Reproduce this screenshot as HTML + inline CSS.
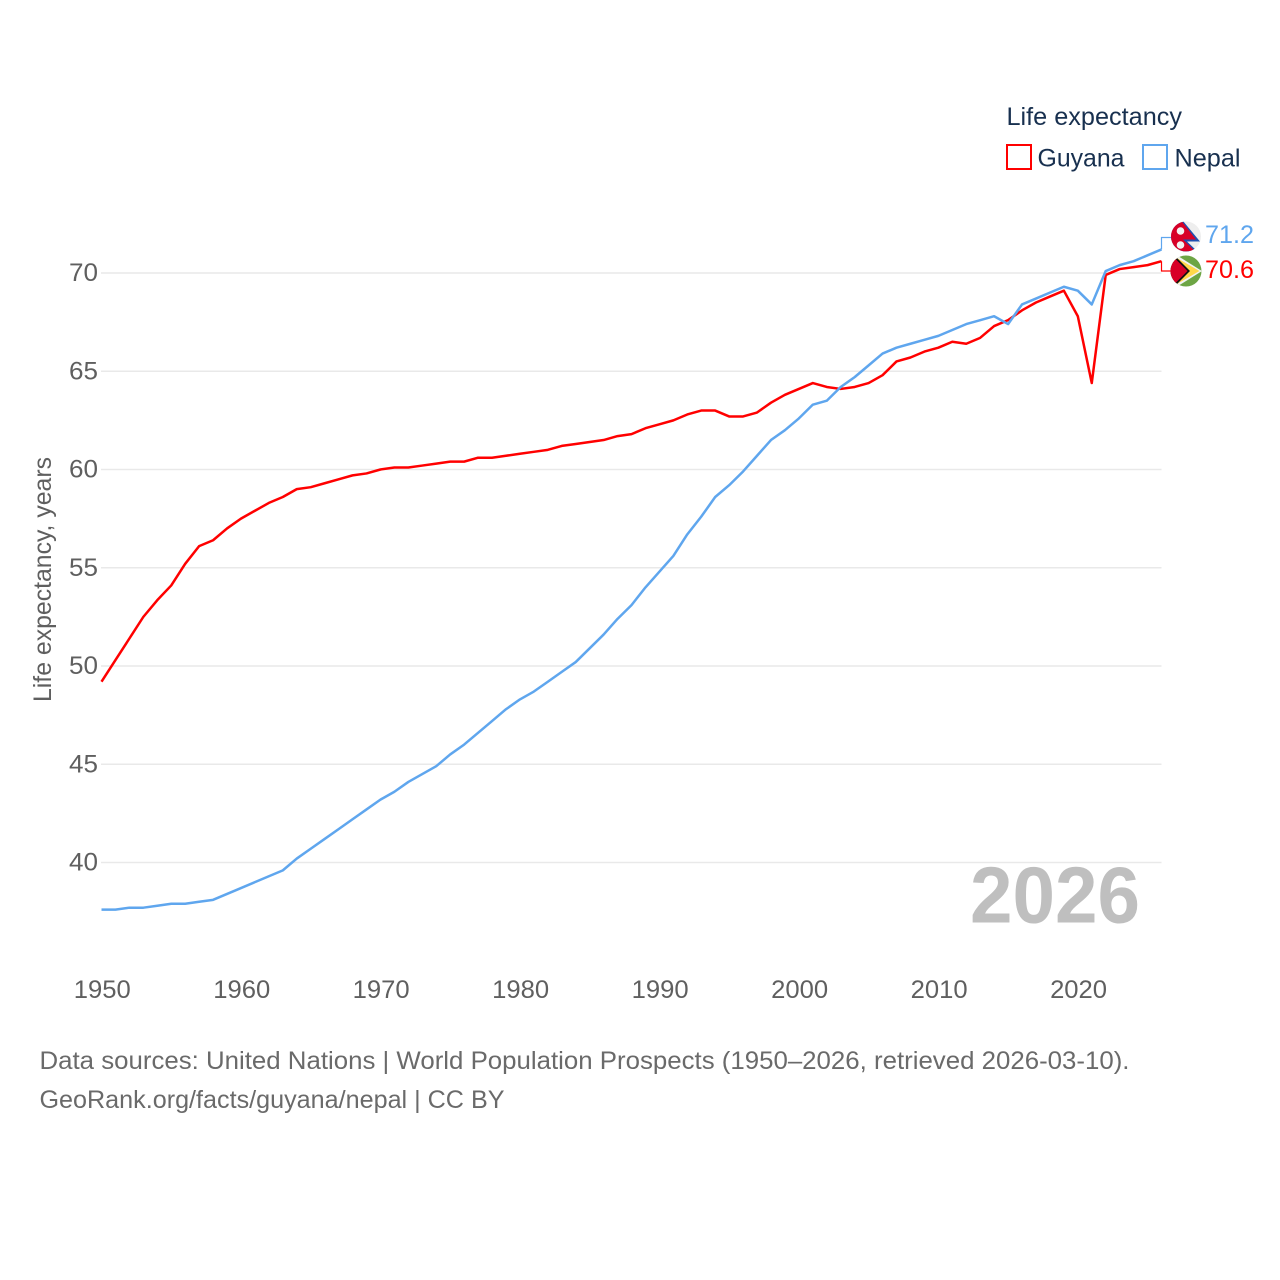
<!DOCTYPE html>
<html lang="en">
<head>
<meta charset="utf-8">
<title>Life expectancy: Guyana and Nepal</title>
<style>
html,body{margin:0;padding:0;background:#fff;}
svg{display:block;font-family:"Liberation Sans",sans-serif;}
</style>
</head>
<body>
<svg id="chart" xmlns="http://www.w3.org/2000/svg" width="1280" height="1280" viewBox="0 0 1280 1280">
  <defs>
    <clipPath id="nepal-clip"><circle cx="1186" cy="236.5" r="15"/></clipPath>
    <clipPath id="guyana-clip"><circle cx="1186" cy="271" r="15.5"/></clipPath>
  </defs>
  <rect x="0" y="0" width="1280" height="1280" fill="#fff"/>
  <g id="grid"></g>
  <g id="y-ticks"></g>
  <g id="x-ticks"></g>
  <text transform="translate(51,702) rotate(-90)" font-size="25" fill="#5f5f5f" textLength="245" lengthAdjust="spacingAndGlyphs">Life expectancy, years</text>
  <text x="970" y="922.5" font-size="80" font-weight="700" fill="#bfbfbf" textLength="170" lengthAdjust="spacingAndGlyphs">2026</text>
  <g id="series"></g>

  <g clip-path="url(#nepal-clip)">
    <rect x="1170" y="220" width="32" height="33" fill="#eeeeee"/>
    <polygon points="1169,218 1183,221 1200,241.5 1187,241.5 1198,252 1169,253" fill="#1f4fb0"/>
    <polygon points="1169,219 1181.5,221 1196,239.5 1183,239.5 1195,251 1169,252" fill="#d80027"/>
    <circle cx="1180.5" cy="231" r="3.8" fill="#f2f2f2"/>
    <circle cx="1180.5" cy="245" r="3.8" fill="#f2f2f2"/>
  </g>
  <g clip-path="url(#guyana-clip)">
    <rect x="1170" y="255" width="33" height="33" fill="#6da544"/>
    <polygon points="1170,251 1202,271 1170,291" fill="#f2f2f2"/>
    <polygon points="1170,254 1199.5,271 1170,288" fill="#ffd84a"/>
    <polygon points="1170,251 1190,271 1170,291" fill="#111"/>
    <polygon points="1170,253.5 1187.5,271 1170,288.5" fill="#d80027"/>
  </g>

  <g id="value-labels"></g>

  <g>
    <text x="1006.5" y="125" font-size="25" fill="#18304f" textLength="175.5" lengthAdjust="spacingAndGlyphs">Life expectancy</text>
    <rect x="1007" y="145" width="24" height="24" fill="#fff" stroke="#ff0000" stroke-width="2"/>
    <text x="1037.5" y="166.5" font-size="25" fill="#18304f" textLength="87" lengthAdjust="spacingAndGlyphs">Guyana</text>
    <rect x="1143" y="145" width="24" height="24" fill="#fff" stroke="#5fa6ee" stroke-width="2"/>
    <text x="1174.5" y="166.5" font-size="25" fill="#18304f" textLength="66" lengthAdjust="spacingAndGlyphs">Nepal</text>
  </g>

  <text x="39.5" y="1069" font-size="25" fill="#6a6a6a" textLength="1090" lengthAdjust="spacingAndGlyphs">Data sources: United Nations | World Population Prospects (1950–2026, retrieved 2026-03-10).</text>
  <text x="39.5" y="1108" font-size="25" fill="#6a6a6a" textLength="465" lengthAdjust="spacingAndGlyphs">GeoRank.org/facts/guyana/nepal | CC BY</text>
</svg>
<script>
const years = [1950,1951,1952,1953,1954,1955,1956,1957,1958,1959,1960,1961,1962,1963,1964,1965,1966,1967,1968,1969,1970,1971,1972,1973,1974,1975,1976,1977,1978,1979,1980,1981,1982,1983,1984,1985,1986,1987,1988,1989,1990,1991,1992,1993,1994,1995,1996,1997,1998,1999,2000,2001,2002,2003,2004,2005,2006,2007,2008,2009,2010,2011,2012,2013,2014,2015,2016,2017,2018,2019,2020,2021,2022,2023,2024,2025,2026];
const guyana = [49.2,50.3,51.4,52.5,53.35,54.1,55.2,56.1,56.4,57.0,57.5,57.9,58.3,58.6,59.0,59.1,59.3,59.5,59.7,59.8,60.0,60.1,60.1,60.2,60.3,60.4,60.4,60.6,60.6,60.7,60.8,60.9,61.0,61.2,61.3,61.4,61.5,61.7,61.8,62.1,62.3,62.5,62.8,63.0,63.0,62.7,62.7,62.9,63.4,63.8,64.1,64.4,64.2,64.1,64.2,64.4,64.8,65.5,65.7,66.0,66.2,66.5,66.4,66.7,67.3,67.6,68.1,68.5,68.8,69.1,67.8,64.4,69.9,70.2,70.3,70.4,70.6];
const nepal = [37.6,37.6,37.7,37.7,37.8,37.9,37.9,38.0,38.1,38.4,38.7,39.0,39.3,39.6,40.2,40.7,41.2,41.7,42.2,42.7,43.2,43.6,44.1,44.5,44.9,45.5,46.0,46.6,47.2,47.8,48.3,48.7,49.2,49.7,50.2,50.9,51.6,52.4,53.1,54.0,54.8,55.6,56.7,57.6,58.6,59.2,59.9,60.7,61.5,62.0,62.6,63.3,63.5,64.2,64.7,65.3,65.9,66.2,66.4,66.6,66.8,67.1,67.4,67.6,67.8,67.4,68.4,68.7,69.0,69.3,69.1,68.4,70.1,70.4,70.6,70.9,71.2];
const yTickLabels = [40,45,50,55,60,65,70];
const xTickLabels = [1950,1960,1970,1980,1990,2000,2010,2020];

const NS = 'http://www.w3.org/2000/svg';
const xScale = function (year) { return 101.5 + (year - 1950) * (1161.5 - 101.5) / 76; };
const yScale = function (v) { return 862.5 - (v - 40) * (862.5 - 273) / 30; };

function make(tag, parent, attrs, text) {
  const el = document.createElementNS(NS, tag);
  Object.keys(attrs).forEach(function (k) { el.setAttribute(k, attrs[k]); });
  if (text !== undefined) el.textContent = text;
  parent.appendChild(el);
  return el;
}

const gridGroup = document.getElementById('grid');
const yGroup = document.getElementById('y-ticks');
yTickLabels.forEach(function (t) {
  const line = make('line', gridGroup, {x1: 101, x2: 1161.5, y1: yScale(t), y2: yScale(t), stroke: '#e9e9e9', 'stroke-width': 1.5});
  
  
  const label = make('text', yGroup, {x: 98, y: yScale(t) + 8, 'font-size': 25, fill: '#5f5f5f', 'text-anchor': 'end', textLength: 29, lengthAdjust: 'spacingAndGlyphs'}, String(t));
  
  
});

const xGroup = document.getElementById('x-ticks');
xTickLabels.forEach(function (t) {
  const label = make('text', xGroup, {x: xScale(t) - 27.75, y: 998, 'font-size': 25, fill: '#5f5f5f', textLength: 57, lengthAdjust: 'spacingAndGlyphs'}, String(t));
  
  
});

function pathFor(values) {
  return values.map(function (v, i) {
    return (i ? 'L' : 'M') + xScale(years[i]).toFixed(2) + ' ' + yScale(v).toFixed(2);
  }).join(' ');
}

const seriesGroup = document.getElementById('series');
const valueGroup = document.getElementById('value-labels');

const guyanaLine = make('path', seriesGroup, {d: pathFor(guyana), fill: 'none', stroke: '#ff0000', 'stroke-width': 2.5, 'stroke-linejoin': 'round'});



const nepalLine = make('path', seriesGroup, {d: pathFor(nepal), fill: 'none', stroke: '#5fa6ee', 'stroke-width': 2.5, 'stroke-linejoin': 'round'});



const endX = xScale(years[years.length - 1]);
const guyanaLast = guyana[guyana.length - 1];
const nepalLast = nepal[nepal.length - 1];

const guyanaConnector = make('path', seriesGroup, {d: 'M' + endX + ' ' + yScale(guyanaLast) + ' V271 H1172', fill: 'none', stroke: '#ff0000', 'stroke-width': 1.2});



const nepalConnector = make('path', seriesGroup, {d: 'M' + endX + ' ' + yScale(nepalLast) + ' V237.5 H1172', fill: 'none', stroke: '#5fa6ee', 'stroke-width': 1.2});



const nepalValue = make('text', valueGroup, {x: 1205, y: 243, 'font-size': 25, fill: '#5fa6ee', textLength: 49, lengthAdjust: 'spacingAndGlyphs'}, nepalLast.toFixed(1));



const guyanaValue = make('text', valueGroup, {x: 1205, y: 278, 'font-size': 25, fill: '#ff0000', textLength: 49, lengthAdjust: 'spacingAndGlyphs'}, guyanaLast.toFixed(1));


</script>
</body>
</html>
